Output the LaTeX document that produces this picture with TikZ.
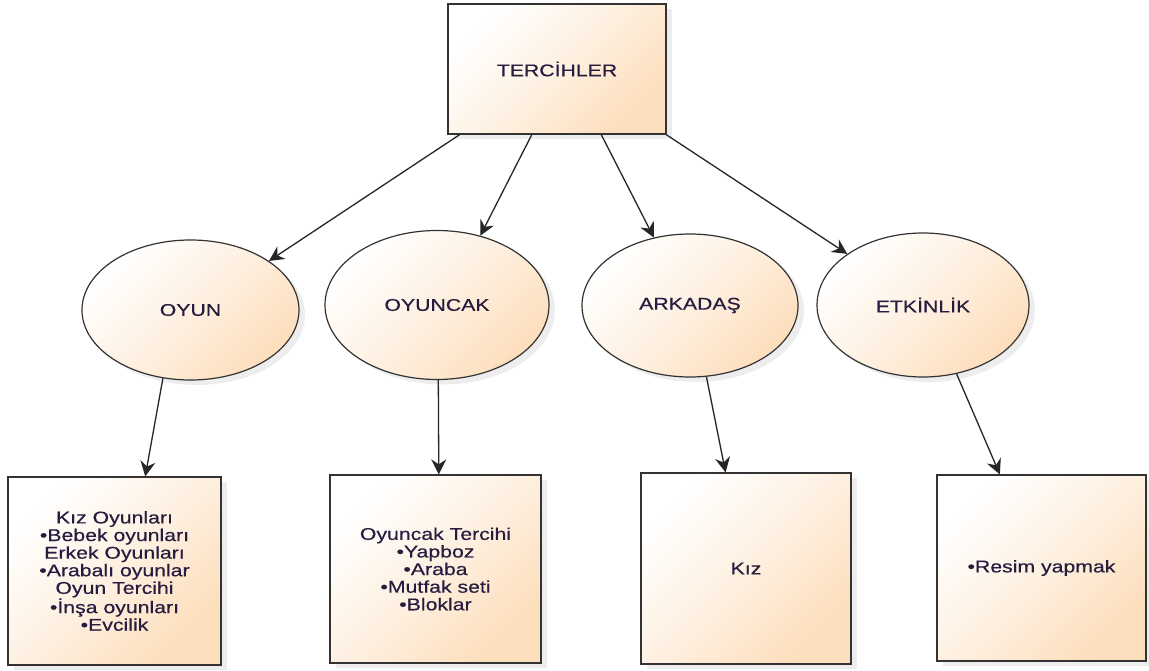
\documentclass[tikz,border=0pt]{standalone}
\usepackage{fontspec}
\setmainfont[FakeStretch=1.25,FakeBold=0.4]{Liberation Sans}
\usetikzlibrary{arrows.meta,shapes.geometric,shadows}
\definecolor{peach}{RGB}{253,222,188}
\definecolor{txt}{RGB}{38,28,64}
\begin{document}
\begin{tikzpicture}[x=1pt,y=-1pt,
  shapebox/.style={draw=black!80, line width=1.2pt, top color=white, bottom color=peach,
    middle color=peach!45, shading angle=45, text=txt,
    font=\fontsize{17}{17.6}\selectfont, align=center, inner sep=0pt,
    drop shadow={shadow xshift=6pt, shadow yshift=-5pt, opacity=0.07, fill=black}},
  boxnode/.style={shapebox, rectangle},
  ellnode/.style={shapebox, ellipse},
  arr/.style={-{Stealth[length=15pt,width=15pt,inset=5pt]}, line width=1.3pt, draw=black!85}
]
\useasboundingbox (0,0) rectangle (1149,671);
\fill[white] (0,0) rectangle (1149,671);

\node[boxnode, minimum width=218pt, minimum height=130pt] (top) at (557,69) {TERCİHLER};

\node[ellnode, minimum width=217pt, minimum height=140pt] (oyun) at (190.5,310) {OYUN};
\node[ellnode, minimum width=224pt, minimum height=149pt] (oyuncak) at (437,305) {OYUNCAK};
\node[ellnode, minimum width=216pt, minimum height=143pt] (arkadas) at (690,305.5) {ARKADAŞ};
\node[ellnode, minimum width=212pt, minimum height=144pt] (etkinlik) at (923,305) {ETKİNLİK};

\node[boxnode, minimum width=213pt, minimum height=188pt] (b1) at (114.5,571)
  {Kız Oyunları\\•Bebek oyunları\\Erkek Oyunları\\•Arabalı oyunlar\\Oyun Tercihi\\•İnşa oyunları\\•Evcilik};
\node[boxnode, minimum width=211pt, minimum height=188pt] (b2) at (435.5,569)
  {Oyuncak Tercihi\\•Yapboz\\•Araba\\•Mutfak seti\\•Bloklar};
\node[boxnode, minimum width=210pt, minimum height=191pt] (b3) at (746,568.5) {Kız};
\node[boxnode, minimum width=209pt, minimum height=186pt] (b4) at (1041.5,568) {•Resim yapmak};

\draw[arr] (top.-146) -- (oyun.32);
\draw[arr] (top.-111) -- (oyuncak.58);
\draw[arr] (top.-56) -- (arkadas.118);
\draw[arr] (top.-31) -- (etkinlik.146);

\draw[arr] (oyun.-112) -- (b1.72);
\draw[arr] (oyuncak.-89) -- (b2.88);
\draw[arr] (arkadas.-77.5) -- (b3.102);
\draw[arr] (etkinlik.-64.5) -- (b4.114);
\end{tikzpicture}
\end{document}
